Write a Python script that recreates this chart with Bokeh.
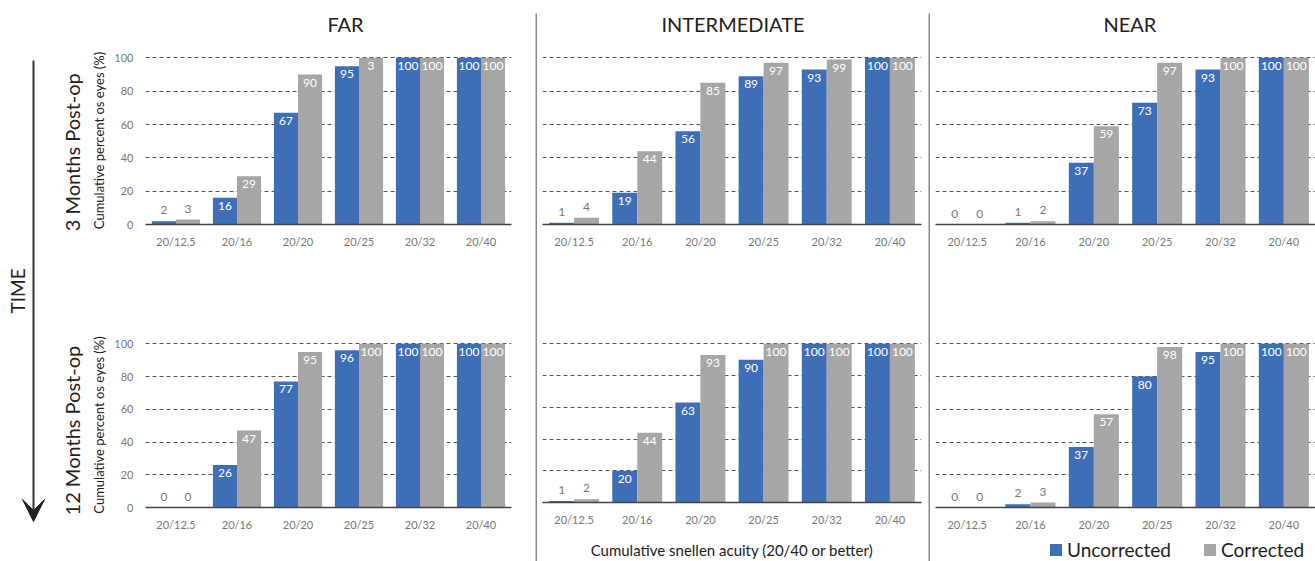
from math import pi
from bokeh.plotting import figure
from bokeh.layouts import row, column
from bokeh.models import (Range1d, FactorRange, ColumnDataSource, Legend, LegendItem,
                          Arrow, VeeHead, FixedTicker, Grid)
from bokeh.core.properties import value
from bokeh.transform import dodge
from bokeh.embed import file_html
from bokeh.resources import INLINE

# ---------------- data ----------------
categories = ["20/12.5", "20/16", "20/20", "20/25", "20/32", "20/40"]

far_3m_unc = [2, 16, 67, 95, 100, 100]
far_3m_cor = [3, 29, 90, 100, 100, 100]
far_3m_cor_labels = ["3", "29", "90", "3", "100", "100"]  # as printed in the source
inter_3m_unc = [1, 19, 56, 89, 93, 100]
inter_3m_cor = [4, 44, 85, 97, 99, 100]
near_3m_unc = [0, 1, 37, 73, 93, 100]
near_3m_cor = [0, 2, 59, 97, 100, 100]

far_12m_unc = [0, 26, 77, 96, 100, 100]
far_12m_cor = [0, 47, 95, 100, 100, 100]
inter_12m_unc = [1, 20, 63, 90, 100, 100]
inter_12m_cor = [2, 44, 93, 100, 100, 100]
near_12m_unc = [0, 2, 37, 80, 95, 100]
near_12m_cor = [0, 3, 57, 98, 100, 100]

column_titles = ["FAR", "INTERMEDIATE", "NEAR"]
row_titles = ["3 Months Post-op", "12 Months Post-op"]
series_names = ["Uncorrected", "Corrected"]
y_title = "Cumulative percent os eyes (%)"
x_title = "Cumulative snellen acuity (20/40 or better)"

BLUE = "#3e6fb6"
GREY = "#a6a6a6"
FONT = "Lato"
DARK = "#222222"
TICK = "#777777"


def blank(p):
    for g in p.grid:
        g.visible = False
    return p


def label_props(vals, labels):
    cols, offs = [], []
    for v in vals:
        if v >= 10:
            cols.append("white")
            offs.append(8)
        else:
            cols.append("#777777")
            offs.append(-11)
    if labels is None:
        labels = [str(v) for v in vals]
    return labels, cols, offs


def panel(unc, cor, w, h, mbl, mbr, mbt, mbb, cor_labels=None, yaxis=False, xlabel=None):
    p = figure(x_range=FactorRange(factors=categories), y_range=Range1d(0, 100.8),
               width=w, height=h, output_backend="svg", toolbar_location=None,
               min_border_left=mbl, min_border_right=mbr, min_border_top=mbt,
               min_border_bottom=mbb, y_axis_location="left" if yaxis else None,
               outline_line_color=None, background_fill_color="white",
               border_fill_color="white")
    blank(p)
    p.add_layout(Grid(dimension=1, ticker=FixedTicker(ticks=[20, 40, 60, 80, 100]),
                      grid_line_color="#555555", grid_line_dash="4 3",
                      grid_line_width=1))

    ul, uc, uo = label_props(unc, None)
    cl, cc, co = label_props(cor, cor_labels)
    src = ColumnDataSource(dict(cat=categories, unc=unc, cor=cor,
                                ul=ul, uc=uc, uo=uo, cl=cl, cc=cc, co=co))
    p.vbar(x=dodge("cat", -0.1975, range=p.x_range), top="unc", width=0.395,
           source=src, fill_color=BLUE, line_color=None)
    p.vbar(x=dodge("cat", 0.1975, range=p.x_range), top="cor", width=0.395,
           source=src, fill_color=GREY, line_color=None)
    p.text(x=dodge("cat", -0.1975, range=p.x_range), y="unc", text="ul", source=src,
           y_offset="uo", text_color="uc", text_align="center", text_baseline="middle",
           text_font=value(FONT), text_font_size="12px")
    p.text(x=dodge("cat", 0.1975, range=p.x_range), y="cor", text="cl", source=src,
           y_offset="co", text_color="cc", text_align="center", text_baseline="middle",
           text_font=value(FONT), text_font_size="12px")

    xa = p.xaxis[0]
    xa.axis_line_color = "#444444"
    xa.axis_line_width = 1.5
    xa.major_tick_line_color = None
    xa.minor_tick_line_color = None
    xa.major_tick_out = 0
    xa.major_tick_in = 0
    xa.major_label_standoff = 10
    xa.major_label_text_font = FONT
    xa.major_label_text_font_size = "11px"
    xa.major_label_text_color = TICK
    if xlabel:
        xa.axis_label = xlabel
        xa.axis_label_standoff = 12
        xa.axis_label_text_font = FONT
        xa.axis_label_text_font_size = "15px"
        xa.axis_label_text_font_style = "normal"
        xa.axis_label_text_color = DARK

    if yaxis:
        ya = p.yaxis[0]
        ya.ticker = FixedTicker(ticks=[0, 20, 40, 60, 80, 100])
        ya.axis_line_color = None
        ya.major_tick_line_color = None
        ya.minor_tick_line_color = None
        ya.major_tick_out = 0
        ya.major_tick_in = 0
        ya.major_label_standoff = 12
        ya.major_label_text_font = FONT
        ya.major_label_text_font_size = "11px"
        ya.major_label_text_color = TICK
        ya.axis_label = y_title
        ya.axis_label_standoff = 4
        ya.axis_label_text_font = FONT
        ya.axis_label_text_font_size = "13px"
        ya.axis_label_text_font_style = "normal"
        ya.axis_label_text_color = DARK
    return p


def title_strip(text, w, mbl, mbr, h=40):
    t = blank(figure(width=w, height=h, x_range=Range1d(0, w), y_range=Range1d(0, h),
                     output_backend="svg", toolbar_location=None, x_axis_location=None,
                     y_axis_location=None, min_border=0, outline_line_color=None))
    t.text(x=[(mbl + w - mbr) / 2 + 2], y=[h - 23], text=[text], text_align="center",
           text_baseline="middle", text_font=value(FONT), text_font_size="20px",
           text_color=DARK)
    return t


# ---------------- layout ----------------
TITLE_H, TOP_H, BOT_H = 40, 243, 278
LEG_H = 28
H = TITLE_H + TOP_H + BOT_H

COLS = [(452, 62, 24), (391, 5, 7), (385, 5, 0)]

far_title = title_strip(column_titles[0], *COLS[0])
int_title = title_strip(column_titles[1], *COLS[1])
near_title = title_strip(column_titles[2], *COLS[2])

far_top = panel(far_3m_unc, far_3m_cor, 452, TOP_H, 62, 24, 16, 59,
                cor_labels=far_3m_cor_labels, yaxis=True)
far_bot = panel(far_12m_unc, far_12m_cor, 452, BOT_H, 62, 24, 59, 54, yaxis=True)
int_top = panel(inter_3m_unc, inter_3m_cor, 391, TOP_H, 5, 7, 16, 59)
int_bot = panel(inter_12m_unc, inter_12m_cor, 391, BOT_H, 5, 7, 59, 54, xlabel=x_title)
near_top = panel(near_3m_unc, near_3m_cor, 385, TOP_H, 5, 0, 16, 59)
near_bot = panel(near_12m_unc, near_12m_cor, 385, BOT_H - LEG_H, 5, 0, 59, 54 - LEG_H)

# legend strip under the NEAR column (its renderers are hidden; only the key shows)
leg = blank(figure(width=385, height=LEG_H, x_range=FactorRange(factors=categories),
                   y_range=Range1d(0, 100), output_backend="svg", toolbar_location=None,
                   x_axis_location=None, y_axis_location=None, min_border=0,
                   outline_line_color=None))
lr1 = leg.vbar(x=categories, top=near_12m_unc, width=0.4, fill_color=BLUE,
               line_color=None, visible=False)
lr2 = leg.vbar(x=categories, top=near_12m_cor, width=0.4, fill_color=GREY,
               line_color=None, visible=False)
leg.add_layout(Legend(items=[LegendItem(label=series_names[0], renderers=[lr1]),
                             LegendItem(label=series_names[1], renderers=[lr2])],
                      orientation="horizontal", location=(113, 0),
                      label_text_font=FONT, label_text_font_size="19px",
                      label_text_color=DARK, glyph_width=15, glyph_height=15,
                      label_standoff=4, spacing=31, padding=0, margin=0,
                      label_height=20, border_line_color=None,
                      background_fill_alpha=0, click_policy="none"), "center")


def separator():
    s = figure(width=2, height=H, output_backend="svg", toolbar_location=None,
               x_axis_location=None, y_axis_location=None, min_border_left=0,
               min_border_right=0, min_border_top=13, min_border_bottom=0,
               background_fill_color="#888888", border_fill_color="white",
               outline_line_color=None)
    return blank(s)


left = blank(figure(width=83, height=H, x_range=Range1d(0, 83), y_range=Range1d(0, H),
                    output_backend="svg", toolbar_location=None, x_axis_location=None,
                    y_axis_location=None, min_border=0, outline_line_color=None))
left.add_layout(Arrow(end=VeeHead(size=22, fill_color="#222222", line_color="#222222"),
                      x_start=33, y_start=H - 48, x_end=33, y_end=H - 520,
                      line_color="#333333", line_width=2))
left.text(x=[17], y=[H - 284], text=["TIME"], angle=pi / 2, text_align="center",
          text_baseline="middle", text_font=value(FONT), text_font_size="19px",
          text_color=DARK)
left.text(x=[71, 71], y=[H - 142, H - 427], text=row_titles, angle=pi / 2,
          text_align="center", text_baseline="middle", text_font=value(FONT),
          text_font_size="20px", text_color=DARK)

layout = row(left,
             column(far_title, far_top, far_bot),
             separator(),
             column(int_title, int_top, int_bot),
             separator(),
             column(near_title, near_top, near_bot, leg))

open("out.html", "w").write(file_html(layout, INLINE))
